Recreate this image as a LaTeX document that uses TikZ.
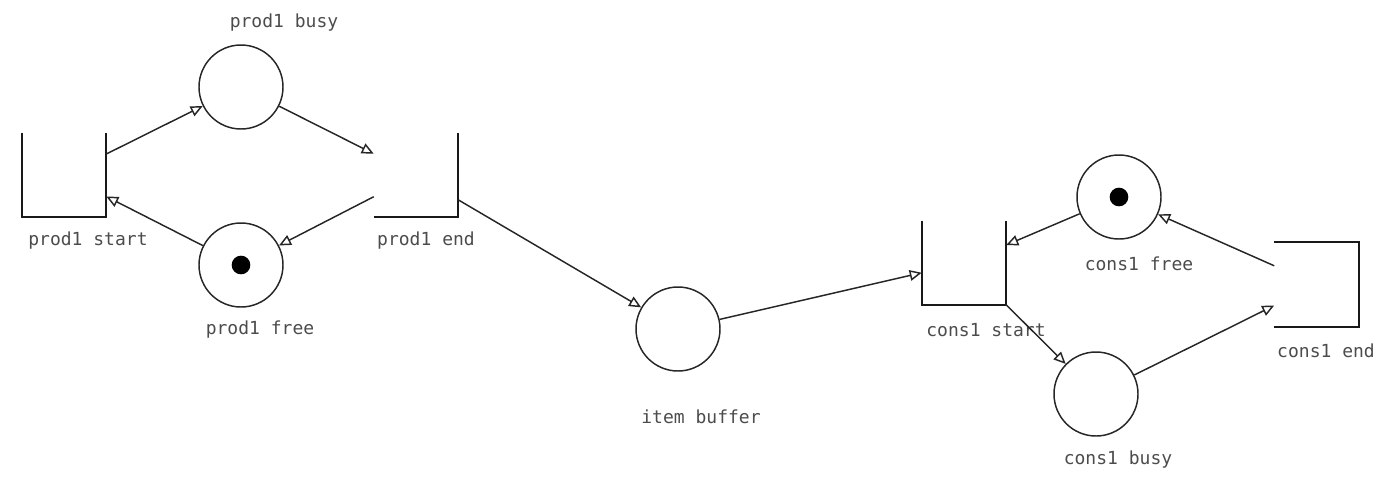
\documentclass[tikz,border=0pt]{standalone}
\usepackage{fontspec}
\setmonofont{DejaVu Sans Mono}
\usetikzlibrary{arrows.meta}
\begin{document}
\begin{tikzpicture}[x=0.75pt,y=-0.75pt,
  place/.style={circle,draw=black!85,line width=1.1pt,minimum size=63pt,inner sep=0pt},
  trans/.style={rectangle,draw=none,minimum width=63pt,minimum height=63pt,inner sep=0pt},
  tside/.style={draw=black!90,line width=1.4pt},
  token/.style={circle,fill=black,minimum size=14pt,inner sep=0pt},
  lbl/.style={font=\ttfamily\fontsize{13.5}{15}\selectfont,text=black!70,inner sep=0pt},
  arc/.style={draw=black!85,line width=1.1pt,-{Triangle[open,length=9pt,width=8pt]}}]
\useasboundingbox (0,0) rectangle (1400,476);
% transitions
\node[trans] (ps) at (64,175) {};
\node[trans] (pe) at (416,175) {};
\node[trans] (cs) at (964,263) {};
\node[trans] (ce) at (1316.5,284.5) {};
\draw[tside] (ps.north west) -- (ps.south west) -- (ps.south east) -- (ps.north east);
\draw[tside] (pe.south west) -- (pe.south east) -- (pe.north east);
\draw[tside] (cs.north west) -- (cs.south west) -- (cs.south east) -- (cs.north east);
\draw[tside] (ce.north west) -- (ce.north east) -- (ce.south east) -- (ce.south west);
% places
\node[place] (pb) at (241,87) {};
\node[place] (pf) at (241,265) {};
\node[place] (ib) at (678,329) {};
\node[place] (cf) at (1119,197) {};
\node[place] (cb) at (1096,394) {};
\node[token] (tpf) at (pf) {};
\node[token] (tcf) at (cf) {};
% labels
\node[lbl] (lpb) at (284,23) {prod1 busy};
\node[lbl] (lps) at (88,241) {prod1 start};
\node[lbl] (lpe) at (426,241) {prod1 end};
\node[lbl] (lpf) at (260,330) {prod1 free};
\node[lbl] (lib) at (701,417) {item buffer};
\node[lbl] (lcs) at (986,330) {cons1 start};
\node[lbl] (lcf) at (1139,264) {cons1 free};
\node[lbl] (lce) at (1326,351) {cons1 end};
\node[lbl] (lcb) at (1118,460) {cons1 busy};
% arcs
\draw[arc] (ps) -- (pb);
\draw[arc] (pb) -- (pe);
\draw[arc] (pe) -- (pf);
\draw[arc] (pf) -- (ps);
\draw[arc] (pe) -- (ib);
\draw[arc] (ib) -- (cs);
\draw[arc] (cf) -- (cs);
\draw[arc] (cs) -- (cb);
\draw[arc] (cb) -- (ce);
\draw[arc] (ce) -- (cf);
\end{tikzpicture}
\end{document}
